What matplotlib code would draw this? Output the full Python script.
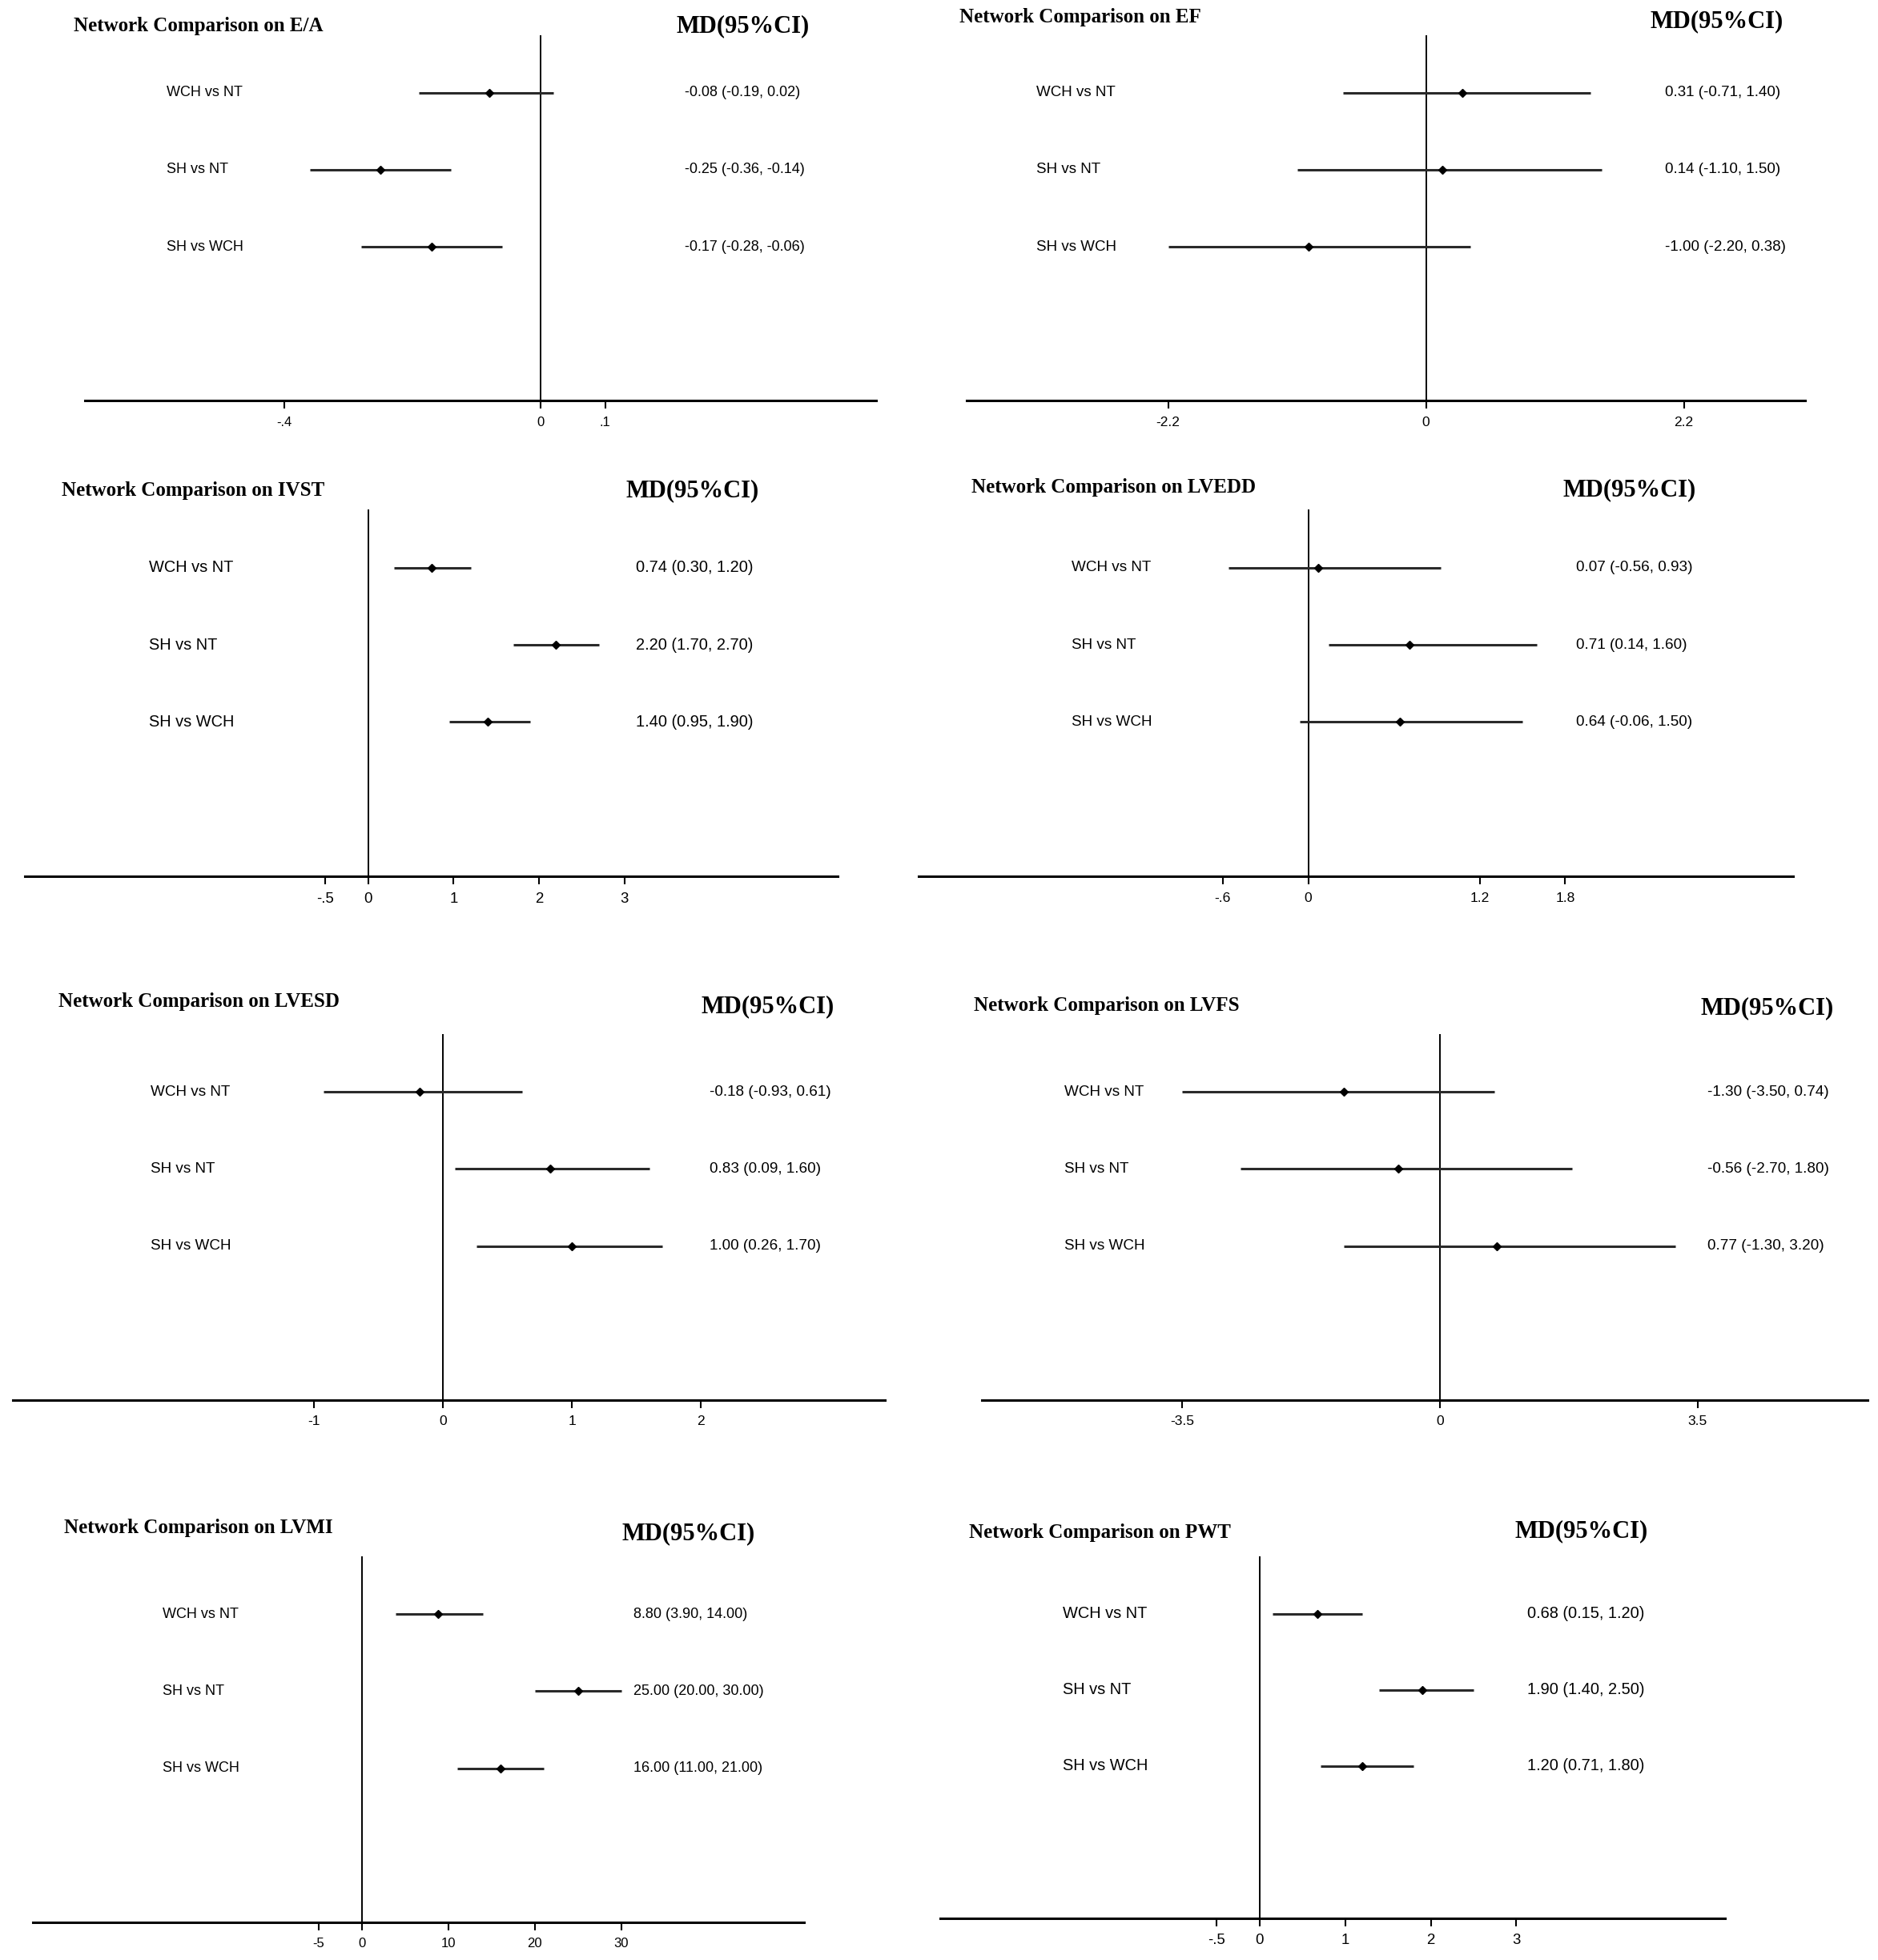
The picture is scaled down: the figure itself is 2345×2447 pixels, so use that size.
import matplotlib
matplotlib.use("Agg")
import matplotlib.pyplot as plt
from matplotlib.transforms import blended_transform_factory

plt.rcParams['font.family'] = ['Liberation Sans', 'DejaVu Sans']

comparisons = ["WCH vs NT", "SH vs NT", "SH vs WCH"]
outcomes = ["E/A", "EF", "IVST", "LVEDD", "LVESD", "LVFS", "LVMI", "PWT"]

ea_md = [-0.08, -0.25, -0.17]
ea_lo = [-0.19, -0.36, -0.28]
ea_hi = [0.02, -0.14, -0.06]

ef_md = [0.31, 0.14, -1.00]
ef_lo = [-0.71, -1.10, -2.20]
ef_hi = [1.40, 1.50, 0.38]

ivst_md = [0.74, 2.20, 1.40]
ivst_lo = [0.30, 1.70, 0.95]
ivst_hi = [1.20, 2.70, 1.90]

lvedd_md = [0.07, 0.71, 0.64]
lvedd_lo = [-0.56, 0.14, -0.06]
lvedd_hi = [0.93, 1.60, 1.50]

lvesd_md = [-0.18, 0.83, 1.00]
lvesd_lo = [-0.93, 0.09, 0.26]
lvesd_hi = [0.61, 1.60, 1.70]

lvfs_md = [-1.30, -0.56, 0.77]
lvfs_lo = [-3.50, -2.70, -1.30]
lvfs_hi = [0.74, 1.80, 3.20]

lvmi_md = [8.80, 25.00, 16.00]
lvmi_lo = [3.90, 20.00, 11.00]
lvmi_hi = [14.00, 30.00, 21.00]

pwt_md = [0.68, 1.90, 1.20]
pwt_lo = [0.15, 1.40, 0.71]
pwt_hi = [1.20, 2.50, 1.80]

ea_ticks = [-0.4, 0, 0.1]
ea_ticklabels = ["-.4", "0", ".1"]
ef_ticks = [-2.2, 0, 2.2]
ef_ticklabels = ["-2.2", "0", "2.2"]
ivst_ticks = [-0.5, 0, 1, 2, 3]
ivst_ticklabels = ["-.5", "0", "1", "2", "3"]
lvedd_ticks = [-0.6, 0, 1.2, 1.8]
lvedd_ticklabels = ["-.6", "0", "1.2", "1.8"]
lvesd_ticks = [-1, 0, 1, 2]
lvesd_ticklabels = ["-1", "0", "1", "2"]
lvfs_ticks = [-3.5, 0, 3.5]
lvfs_ticklabels = ["-3.5", "0", "3.5"]
lvmi_ticks = [-5, 0, 10, 20, 30]
lvmi_ticklabels = ["-5", "0", "10", "20", "30"]
pwt_ticks = [-0.5, 0, 1, 2, 3]
pwt_ticklabels = ["-.5", "0", "1", "2", "3"]

data = [
    (ea_md, ea_lo, ea_hi, ea_ticks, ea_ticklabels),
    (ef_md, ef_lo, ef_hi, ef_ticks, ef_ticklabels),
    (ivst_md, ivst_lo, ivst_hi, ivst_ticks, ivst_ticklabels),
    (lvedd_md, lvedd_lo, lvedd_hi, lvedd_ticks, lvedd_ticklabels),
    (lvesd_md, lvesd_lo, lvesd_hi, lvesd_ticks, lvesd_ticklabels),
    (lvfs_md, lvfs_lo, lvfs_hi, lvfs_ticks, lvfs_ticklabels),
    (lvmi_md, lvmi_lo, lvmi_hi, lvmi_ticks, lvmi_ticklabels),
    (pwt_md, pwt_lo, pwt_hi, pwt_ticks, pwt_ticklabels),
]

# layout in px of a 1500 wide view:
# left, right, top, bottom, xmin, xmax, label x, ci x, title x, title y, header x, header y, font
layout = [
    (68, 700, 28, 320, -0.7096, 0.5224, 133, 547, 59, 21, 540, 21, 13.0),
    (772, 1442, 28, 320, -3.919, 3.236, 828, 1330, 766, 14, 1318, 17, 13.5),
    (20, 669, 407, 700, -4.01, 5.49, 119, 508, 49, 392, 500, 392, 14.4),
    (734, 1432, 407, 700, -2.728, 3.395, 856, 1259, 776, 389, 1248, 391, 13.6),
    (10, 707, 826, 1118, -3.34, 3.427, 120, 567, 47, 800, 560, 804, 13.6),
    (784, 1492, 826, 1118, -6.218, 5.81, 850, 1364, 778, 803, 1358, 805, 13.6),
    (26, 642, 1243, 1535, -38.06, 51.09, 130, 506, 51, 1220, 497, 1225, 13.0),
    (751, 1378, 1243, 1532, -3.73, 5.44, 849, 1220, 774, 1224, 1210, 1223, 14.4),
]

W, H = 2345, 2447
S = W / 1500.0

def fx(x):
    return x * S / W

def fy(y):
    return 1 - y * S / H

fig = plt.figure(figsize=(W / 100, H / 100), dpi=100)

rows = [3, 2, 1]
for name, (md, lo, hi, ticks, ticklabels), lay in zip(outcomes, data, layout):
    left, right, top, bottom, xmin, xmax, labx, cix, tx, ty, hx, hy, fs = lay
    ax = fig.add_axes([fx(left), fy(bottom), fx(right) - fx(left), fy(top) - fy(bottom)])
    ax.axvline(0, color='black', lw=1.4, zorder=1)
    ax.hlines(rows, lo, hi, color='#2a2a2a', lw=2.2, zorder=2)
    ax.plot(md, rows, 'D', color='black', ms=5.5, ls='none', zorder=3)
    ax.set_xlim(xmin, xmax)
    ax.set_ylim(-1, 3.75)
    for side in ['left', 'top', 'right']:
        ax.spines[side].set_visible(False)
    ax.spines['bottom'].set_linewidth(2.2)
    ax.set_yticks([])
    ax.set_xticks(ticks)
    ax.set_xticklabels(ticklabels)
    ax.tick_params(axis='x', length=7, width=1.5, pad=7, labelsize=fs - 1)

    tr = blended_transform_factory(fig.transFigure, ax.transData)
    for r, comp, m, l, h in zip(rows, comparisons, md, lo, hi):
        ax.text(fx(labx), r, comp, transform=tr, va='center', ha='left', fontsize=fs)
        ax.text(fx(cix), r, "%.2f (%.2f, %.2f)" % (m, l, h), transform=tr,
                va='center', ha='left', fontsize=fs)

    fig.text(fx(tx), fy(ty), "Network Comparison on " + name, va='center', ha='left',
             family='Liberation Serif', weight='bold', fontsize=18)
    fig.text(fx(hx), fy(hy), "MD(95%CI)", va='center', ha='left',
             family='Liberation Serif', weight='bold', fontsize=22)

fig.savefig("out.png", dpi=100, facecolor='white')
